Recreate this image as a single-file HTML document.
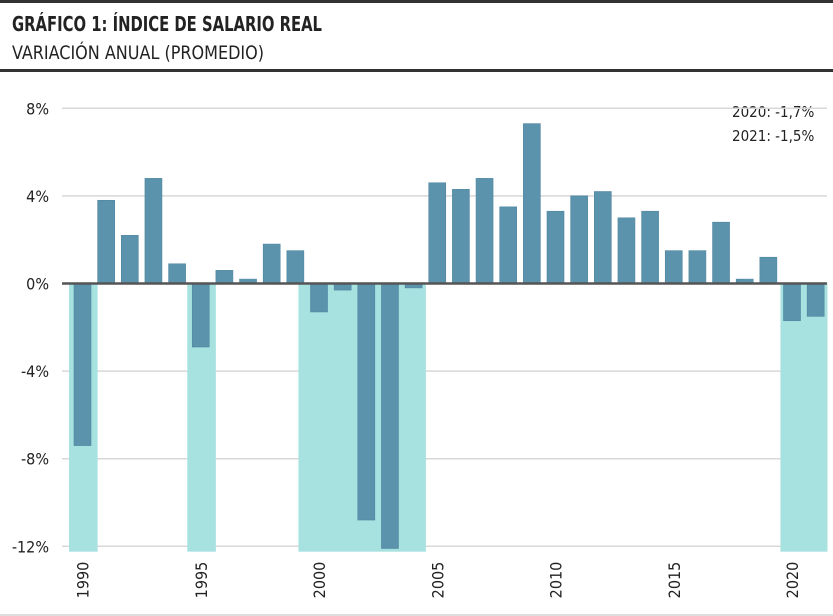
<!DOCTYPE html>
<html><head><meta charset="utf-8">
<style>
body{margin:0;background:#fff;}
#wrap{position:relative;width:833px;height:616px;overflow:hidden;background:#fff;font-family:"Liberation Sans Narrow","DejaVu Sans Condensed","Liberation Sans",sans-serif;}
</style></head>
<body>
<div id="wrap">
<svg id="svg" width="833" height="616">
  <rect x="0" y="0" width="833" height="3" fill="#333"/>
  <text x="12" y="31" font-size="20" font-weight="bold" fill="#222" textLength="310" lengthAdjust="spacingAndGlyphs">GRÁFICO 1: ÍNDICE DE SALARIO REAL</text>
  <text x="12" y="59" font-size="19" fill="#222" textLength="252" lengthAdjust="spacingAndGlyphs">VARIACIÓN ANUAL (PROMEDIO)</text>
  <rect x="0" y="69" width="833" height="3" fill="#333"/>
  <rect x="0" y="614" width="833" height="2" fill="#ddd"/>
  <text x="732" y="117" font-size="15" fill="#222">2020: -1,7%</text>
  <text x="732" y="141" font-size="15" fill="#222">2021: -1,5%</text>
  <g id="grid"></g><g id="shades"></g><g id="bars"></g><g id="axes"></g>
</svg>
</div>
<script>
const years=[1990,1991,1992,1993,1994,1995,1996,1997,1998,1999,2000,2001,2002,2003,2004,2005,2006,2007,2008,2009,2010,2011,2012,2013,2014,2015,2016,2017,2018,2019,2020,2021];
const values=[-7.4,3.8,2.2,4.8,0.9,-2.9,0.6,0.2,1.8,1.5,-1.3,-0.3,-10.8,-12.1,-0.2,4.6,4.3,4.8,3.5,7.3,3.3,4.0,4.2,3.0,3.3,1.5,1.5,2.8,0.2,1.2,-1.7,-1.5];
const yTicks=[8,4,0,-4,-8,-12];
const yTickLabels=["8%","4%","0%","-4%","-8%","-12%"];
const xTickYears=[1990,1995,2000,2005,2010,2015,2020];
const shadeStarts=[1989.43,1994.43,1999.13,2019.51];
const shadeEnds=[1990.64,1995.64,2004.52,2021.5];
const NS="http://www.w3.org/2000/svg";
const x0=62,x1=827;
function xs(yr){return 82.5+(yr-1990)*23.65;}
function ys(v){return 283.5-v*21.9;}
function mk(tag,attrs,parent){const e=document.createElementNS(NS,tag);for(const k in attrs)e.setAttribute(k,attrs[k]);document.getElementById(parent).appendChild(e);return e;}
yTicks.forEach((t,i)=>{
  if(t!==0){const l=mk('line',{x1:x0,x2:x1,y1:ys(t),y2:ys(t),stroke:'#d8d8d8','stroke-width':1.5},'grid');
  
  }
  const tx=mk('text',{x:49,y:ys(t)+6,'font-size':16,fill:'#222','text-anchor':'end'},'axes');
  tx.textContent=yTickLabels[i];
  
  
});
shadeStarts.forEach((s,i)=>{
  const r=mk('rect',{x:xs(s),y:ys(0),width:xs(shadeEnds[i])-xs(s),height:551.7-ys(0),fill:'#a8e2e0'},'shades');
  
  
});
years.forEach((yr,i)=>{
  const v=values[i];const y=Math.min(ys(v),ys(0));const h=Math.abs(ys(v)-ys(0));
  const r=mk('rect',{x:xs(yr)-8.5,y:y,width:17,height:h,fill:'#5b93ad',stroke:'#4f86a0','stroke-width':0.6},'bars');
  
  
});
const z=mk('line',{x1:x0,x2:x1,y1:ys(0),y2:ys(0),stroke:'#555','stroke-width':2.5},'axes');


xTickYears.forEach(yr=>{
  const cx=xs(yr)+6,cy=580;
  const t=mk('text',{x:cx,y:cy,'font-size':16,fill:'#222','text-anchor':'middle',transform:'rotate(-90 '+cx+' '+cy+')'},'axes');
  t.textContent=yr;
  
  
});
</script>
</body></html>
